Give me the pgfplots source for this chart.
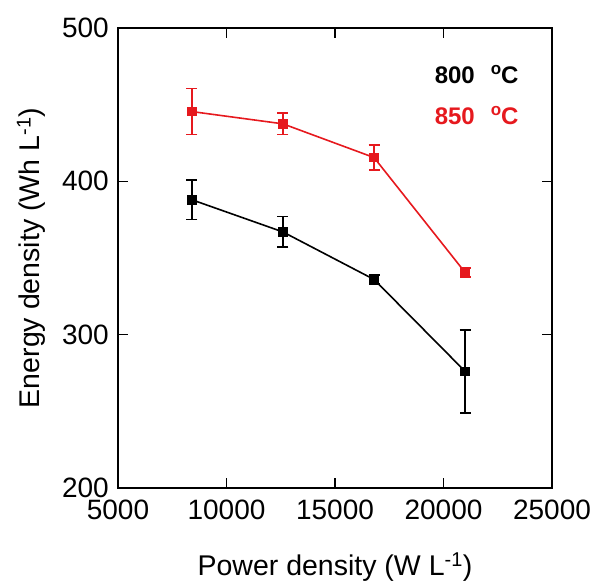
\documentclass[border=0pt]{standalone}
\usepackage{fontspec}
\setmainfont{Liberation Sans}
\usepackage{pgfplots}
\pgfplotsset{compat=1.18}
\usetikzlibrary{calc}
\definecolor{myred}{RGB}{230,25,30}
\newcommand{\degC}{\hspace{16pt}\raisebox{9pt}{\fontsize{17}{20}\selectfont o}C}
\begin{document}
\begin{tikzpicture}
\begin{axis}[
    scale only axis,
    width=434pt, height=460pt,
    xmin=5000, xmax=25000,
    ymin=200, ymax=500,
    xtick={5000,10000,15000,20000,25000},
    ytick={200,300,400,500},
    scaled x ticks=false,
    ticklabel style={font=\fontsize{28}{33}\selectfont, inner sep=1pt},
    xticklabel style={/pgf/number format/1000 sep={}, yshift=-11pt},
    yticklabel style={xshift=-8pt},
    /pgf/number format/assume math mode=true,
    tick align=inside,
    major tick length=10pt,
    minor tick num=0,
    axis line style={line width=1.8pt},
    every tick/.style={line width=1.5pt, black},
    xlabel={Power density (W L\textsuperscript{-1})},
    ylabel={Energy density (Wh L\textsuperscript{-1})},
    label style={font=\fontsize{28.5}{33}\selectfont},
    xlabel style={yshift=-28pt},
    ylabel style={yshift=12pt},
    clip=false,
]
\coordinate (ll) at (rel axis cs:0,0);
\addplot+[black, line width=1.6pt, mark=square*, mark size=4pt,
    mark options={solid, fill=black},
    error bars/.cd, y dir=both, y explicit,
    error bar style={line width=1.6pt, black},
    error mark options={rotate=90, mark size=5.5pt, line width=1.6pt, black}]
coordinates {
(8400,388) +- (0,13)
(12600,367) +- (0,10)
(16800,336) +- (0,3)
(21000,276) +- (0,27)
};
\addplot+[myred, line width=1.6pt, mark=square*, mark size=4pt,
    mark options={solid, fill=myred},
    error bars/.cd, y dir=both, y explicit,
    error bar style={line width=1.6pt, myred},
    error mark options={rotate=90, mark size=5.5pt, line width=1.6pt, myred}]
coordinates {
(8400,445.5) +- (0,15)
(12600,437.5) +- (0,7)
(16800,415.5) +- (0,8)
(21000,340.5) +- (0,3)
};
\node[anchor=east, font=\bfseries\fontsize{24}{28}\selectfont, black] at (rel axis cs:0.931,0.898) {800\degC};
\node[anchor=east, font=\bfseries\fontsize{24}{28}\selectfont, myred] at (rel axis cs:0.931,0.809) {850\degC};
\end{axis}
\pgfresetboundingbox
\path ($(ll)+(-118pt,-95pt)$) rectangle ($(ll)+(480pt,488pt)$);
\end{tikzpicture}
\end{document}
